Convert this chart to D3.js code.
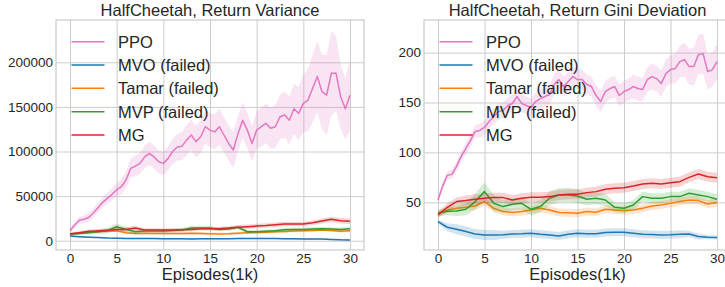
<!DOCTYPE html>
<html>
<head>
<meta charset="utf-8">
<script src="https://cdn.jsdelivr.net/npm/d3@7"></script>
<style>
  html, body { margin: 0; padding: 0; background: #fff; }
  svg { display: block; font-family: "Liberation Sans", Arial, sans-serif; }
</style>
</head>
<body>
<svg id="chart" width="725" height="287"></svg>
<script>
// ---------------- DATA ----------------
const seriesNames = ["PPO", "MVO (failed)", "Tamar (failed)", "MVP (failed)", "MG"];
const seriesColors = ["#e377c2", "#1f77b4", "#ff7f0e", "#2ca02c", "#d62728"];

const episodesFine = [0,0.5,1,1.5,2,2.5,3,3.5,4,4.5,5,5.5,6,6.5,7,7.5,8,8.5,9,9.5,10,10.5,11,11.5,12,12.5,13,13.5,14,14.5,15,15.5,16,16.5,17,17.5,18,18.5,19,19.5,20,20.5,21,21.5,22,22.5,23,23.5,24,24.5,25,25.5,26,26.5,27,27.5,28,28.5,29,29.5,30];
const episodesCoarse = [0,1,2,3,4,5,6,7,8,9,10,11,12,13,14,15,16,17,18,19,20,21,22,23,24,25,26,27,28,29,30];

const xTicks = [0, 5, 10, 15, 20, 25, 30];
const varTicks = [0, 50000, 100000, 150000, 200000];
const giniTicks = [50, 100, 150, 200];

// Return Variance panel
const varPPO = [11200,17600,23000,24000,26000,31000,37000,43000,47500,52000,57000,60500,68000,81000,83700,86700,94000,98000,94000,88500,86700,92000,100000,105000,106000,113000,118500,111000,116600,127800,124000,122000,127800,118500,109000,101600,120000,135000,124000,109000,124000,127800,131500,126000,127800,139000,141000,135000,148000,142700,154000,157700,170800,184000,167000,163300,187600,187600,161400,148000,163000];
const varPPOsd = [3000,3500,4000,4500,5000,5000,5500,6000,6500,7000,7500,8500,9500,10500,11500,12000,12500,13000,13000,13000,13000,13500,14000,15000,16000,17000,17000,18000,18500,19000,19000,19500,20000,20000,20000,20000,20000,20000,20000,20000,21000,22000,22000,23000,24000,25000,26000,27000,28000,30000,32000,35000,38000,40000,42000,45000,47000,42000,36000,34000,40000];
const varMVO = [5200,4500,4000,3500,3000,2800,2600,2500,2400,2400,2300,2200,2200,2000,2100,2200,2300,2300,2400,2500,2600,2500,2400,2300,2200,2000,1900,1800,1500,1000,800];
const varMVOsd = [1000,900,800,800,800,800,800,800,800,800,800,800,800,800,800,800,800,800,800,800,800,800,800,800,800,800,800,800,800,800,800];
const varTamar = [7500,8500,9500,10300,11000,11200,9000,8200,8500,8200,8200,8200,8000,8500,8200,7800,7600,7800,8500,9000,9300,9600,10000,10300,10800,11200,11500,12000,11500,10500,11200];
const varTamarSd = [1500,1500,1500,1500,1500,1500,1500,1500,1500,1500,1500,1500,1500,1500,1500,1500,1500,1500,1500,1500,1500,1500,1500,1500,1500,1500,1500,1500,1500,1500,1500];
const varMVP = [7500,8200,9000,10000,11200,15700,12700,10000,10800,10800,10800,11500,12000,14200,14200,14200,12700,13200,15000,10000,10000,10500,11200,12300,12500,12700,13000,13500,13000,12700,13500];
const varMVPsd = [1500,1500,2000,2500,3000,3500,3000,2500,2000,2000,2000,2000,2000,2500,2500,2500,2000,2000,2000,2000,2000,2000,2000,2000,2000,2000,2000,2000,2000,2000,2000];
const varMG = [7500,9000,10500,11000,11600,12700,12700,14200,12000,12000,12000,12000,12300,12700,13500,13500,13500,14200,15000,15700,16400,17000,17900,18700,18700,18700,20200,22000,24000,22400,21700];
const varMGsd = [1500,1500,2000,2000,2000,2000,2500,2500,2000,2000,2000,2000,2000,2000,2000,2000,2000,2000,2500,2500,2500,2500,2500,2500,2500,2500,2500,3000,3000,3000,3000];

// Return Gini Deviation panel
const giniPPO = [52,66,77,78,86,96,104,112,121,122,125,131,136,141,142,147,149,156,149,147,145,151,154,156,158,168,173,166,171,176,173,173,168,166,157,151,161,164,166,157,161,163,166,164,163,173,176,174,169,179,183,184,191,193,186,186,198,199,181,183,191];
const giniPPOsd = [3,4,4,5,5,5,6,6,6,7,7,7,8,8,8,8,9,9,9,9,9,9,10,10,10,10,10,10,10,10,10,10,10,10,10,11,11,11,11,11,11,11,12,12,12,12,13,13,13,14,14,15,16,17,18,19,20,20,18,17,18];
const giniMVO = [30.7,25,23,20.7,18.3,17.3,17.3,17.5,18.3,18.5,19,18,17.3,16.3,18,19,18.5,18.5,19.7,20,20,19,18,17.8,17.3,17.5,18,18.3,15.7,15,14.7];
const giniMVOsd = [2,4,5,5,5,5,5,4,4,4,4,4,4,4,4,4,4,4,4,4,4,4,4,4,4,4,4,3,3,2,2];
const giniTamar = [39,42,44,45,46.3,50.7,44,40.7,39.7,40.7,42.3,44,42.3,39.7,39.5,39,40.7,40,43,42.3,41.7,42.3,44,46.3,47.3,49,50.7,52.3,51.7,48.3,49.7];
const giniTamarSd = [3,3,3,3,4,4,4,4,4,4,4,4,4,4,4,4,4,4,4,4,4,4,4,4,4,4,4,4,4,4,4];
const giniMVP = [39,41,41.3,43,50.7,60.7,49,45.7,48,49,43,45.7,54,57.3,57.3,56.3,53,54,52.3,45,44,47.3,55.7,54,54,55.7,55.7,59,57.3,55.7,53];
const giniMVPsd = [3,4,5,6,8,9,8,6,6,6,6,6,7,7,7,7,6,6,6,5,5,5,5,5,5,5,5,5,5,5,5];
const giniMG = [37.3,45,50.7,51.7,53,54,54.7,54.7,52.3,54,55,55,55.7,57.3,58,58,59.7,60.7,63,64,64.7,66.3,68.3,69,68.3,69.7,70.7,75,78.3,75.7,74.7];
const giniMGsd = [3,4,4,5,5,5,5,5,5,5,5,5,5,5,5,5,5,5,5,5,5,5,5,5,5,5,5,5,5,5,5];

// ---------------- DRAW ----------------
const panels = [
  {
    title: "HalfCheetah, Return Variance",
    left: 56, right: 364, top: 20, bottom: 250,
    yDomain: [-10400, 247400], yTicks: varTicks,
    series: [
      { x: episodesFine, m: varPPO, s: varPPOsd },
      { x: episodesCoarse, m: varMVO, s: varMVOsd },
      { x: episodesCoarse, m: varTamar, s: varTamarSd },
      { x: episodesCoarse, m: varMVP, s: varMVPsd },
      { x: episodesCoarse, m: varMG, s: varMGsd }
    ]
  },
  {
    title: "HalfCheetah, Return Gini Deviation",
    left: 424, right: 731, top: 20, bottom: 250,
    yDomain: [2.2, 232.7], yTicks: giniTicks,
    series: [
      { x: episodesFine, m: giniPPO, s: giniPPOsd },
      { x: episodesCoarse, m: giniMVO, s: giniMVOsd },
      { x: episodesCoarse, m: giniTamar, s: giniTamarSd },
      { x: episodesCoarse, m: giniMVP, s: giniMVPsd },
      { x: episodesCoarse, m: giniMG, s: giniMGsd }
    ]
  }
];

const svg = d3.select("#chart");
const textColor = "#262626";
const gridColor = "#cccccc";

panels.forEach((p, pi) => {
  const x = d3.scaleLinear().domain([-1.5, 31.5]).range([p.left, p.right]);
  const y = d3.scaleLinear().domain(p.yDomain).range([p.bottom, p.top]);
  const g = svg.append("g");

  const clipId = "clip" + pi;
  g.append("clipPath").attr("id", clipId).append("rect")
    .attr("x", p.left).attr("y", p.top)
    .attr("width", p.right - p.left).attr("height", p.bottom - p.top);

  // grid via axes
  const xAxis = d3.axisBottom(x).tickValues(xTicks).tickSize(-(p.bottom - p.top)).tickPadding(5).tickFormat(d3.format("d"));
  const gx = g.append("g").attr("transform", `translate(0,${p.bottom})`).call(xAxis);
  gx.select(".domain").remove();
  gx.selectAll("line").attr("stroke", gridColor).attr("stroke-width", 1);
  gx.selectAll("text").attr("fill", textColor).attr("font-size", "13.5px")
    .attr("font-family", '"Liberation Sans", Arial, sans-serif').attr("dy", "0").attr("y", 13);

  const yAxis = d3.axisLeft(y).tickValues(p.yTicks).tickSize(-(p.right - p.left)).tickPadding(3).tickFormat(d3.format("d"));
  const gy = g.append("g").attr("transform", `translate(${p.left},0)`).call(yAxis);
  gy.select(".domain").remove();
  gy.selectAll("line").attr("stroke", gridColor).attr("stroke-width", 1);
  gy.selectAll("text").attr("fill", textColor).attr("font-size", "13.5px")
    .attr("font-family", '"Liberation Sans", Arial, sans-serif');

  // frame
  g.append("rect").attr("x", p.left).attr("y", p.top)
    .attr("width", p.right - p.left).attr("height", p.bottom - p.top)
    .attr("fill", "none").attr("stroke", gridColor).attr("stroke-width", 1.25);

  const plot = g.append("g").attr("clip-path", `url(#${clipId})`);
  p.series.forEach((s, i) => {
    const pts = s.x.map((xv, k) => ({ x: xv, m: s.m[k], s: s.s[k] }));
    const area = d3.area().x(d => x(d.x)).y0(d => y(d.m - d.s)).y1(d => y(d.m + d.s));
    const line = d3.line().x(d => x(d.x)).y(d => y(d.m));
    plot.append("path").datum(pts).attr("d", area)
      .attr("fill", seriesColors[i]).attr("fill-opacity", 0.2).attr("stroke", "none");
    plot.append("path").datum(pts).attr("d", line)
      .attr("fill", "none").attr("stroke", seriesColors[i]).attr("stroke-width", 1.5)
      .attr("stroke-linejoin", "round");
  });

  // title
  g.append("text").attr("x", (p.left + p.right) / 2).attr("y", 16)
    .attr("text-anchor", "middle").attr("fill", textColor).attr("font-size", "16.5px")
    .text(p.title);
  // x label
  g.append("text").attr("x", (p.left + p.right) / 2).attr("y", 280)
    .attr("text-anchor", "middle").attr("fill", textColor).attr("font-size", "16.5px")
    .text("Episodes(1k)");

  // legend
  const lg = g.append("g");
  seriesNames.forEach((name, i) => {
    const ly = 41.7 + i * 23.33;
    lg.append("line").attr("x1", p.left + 15.5).attr("x2", p.left + 48.5)
      .attr("y1", ly).attr("y2", ly)
      .attr("stroke", seriesColors[i]).attr("stroke-width", 1.5);
    lg.append("text").attr("x", p.left + 62).attr("y", ly).attr("dy", "0.36em")
      .attr("fill", textColor).attr("font-size", "16.5px").text(name);
  });
});
</script>
</body>
</html>
